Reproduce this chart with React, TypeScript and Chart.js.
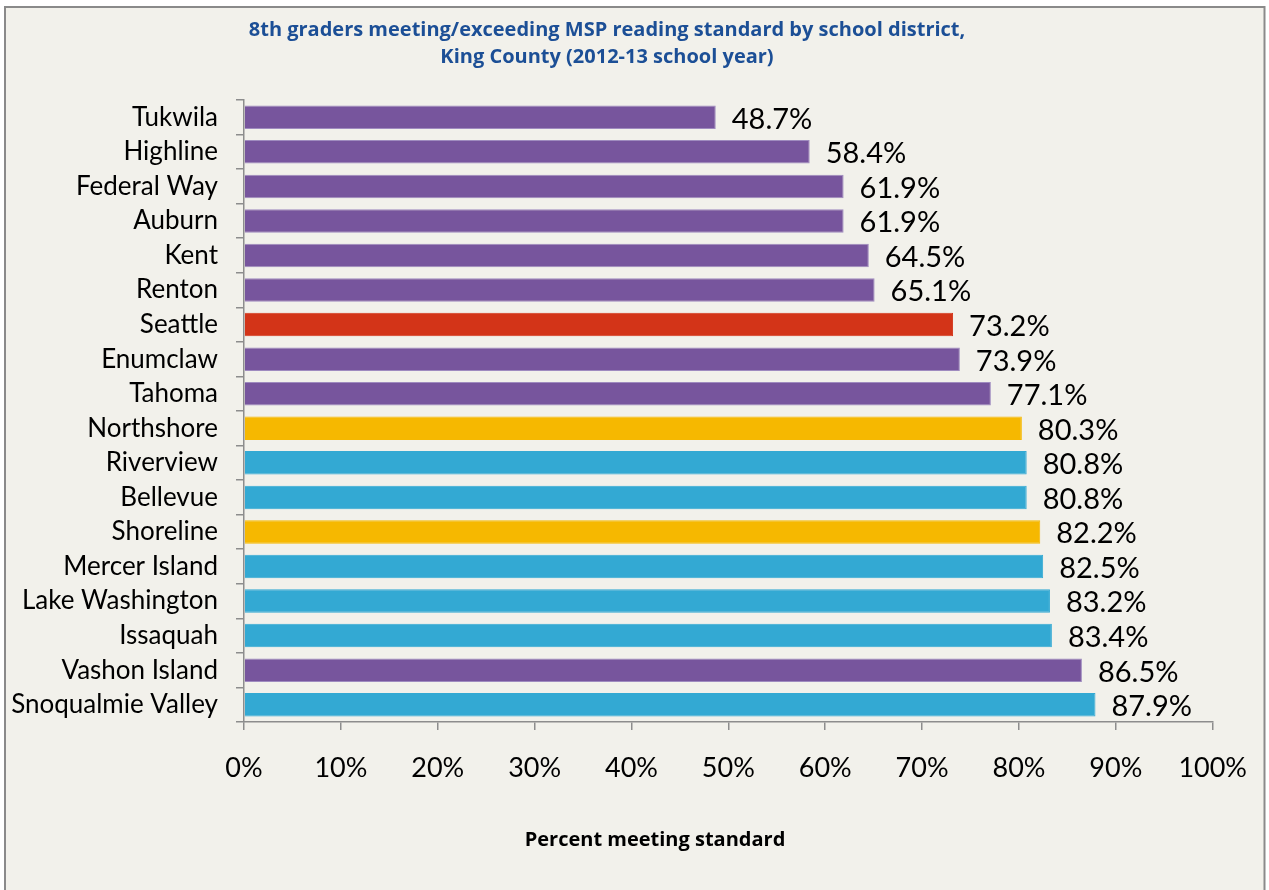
import React, { useEffect, useRef } from "react";
import { Chart, registerables } from "chart.js";

Chart.register(...registerables);

const districts = [
  "Tukwila", "Highline", "Federal Way", "Auburn", "Kent", "Renton", "Seattle",
  "Enumclaw", "Tahoma", "Northshore", "Riverview", "Bellevue", "Shoreline",
  "Mercer Island", "Lake Washington", "Issaquah", "Vashon Island", "Snoqualmie Valley",
];
const percentMeeting = [
  48.7, 58.4, 61.9, 61.9, 64.5, 65.1, 73.2, 73.9, 77.1, 80.3, 80.8, 80.8, 82.2,
  82.5, 83.2, 83.4, 86.5, 87.9,
];
const groups = [
  "p", "p", "p", "p", "p", "p", "r", "p", "p", "y", "b", "b", "y", "b", "b", "b", "p", "b",
];
const groupColors: Record<string, string> = { p: "#77559d", r: "#d33418", y: "#f6b800", b: "#33a9d3" };
const groupBorders: Record<string, string> = { p: "#9f8bbf", r: "#d33418", y: "#f6b800", b: "#33a9d3" };
const xTicks = [0, 10, 20, 30, 40, 50, 60, 70, 80, 90, 100];
const titleLines = [
  "8th graders meeting/exceeding MSP reading standard by school district,",
  "King County (2012-13 school year)",
];
const axisTitle = "Percent meeting standard";

const FONT = "Lato, 'Liberation Sans', sans-serif";
const TFONT = "'Open Sans', 'Liberation Sans', sans-serif";

export default function App() {
  const ref = useRef<HTMLCanvasElement | null>(null);
  useEffect(() => {
    if (!ref.current) return;
    const bgPlugin = {
      id: "bg",
      beforeDraw(chart: any) {
        const c = chart.ctx;
        c.save();
        c.fillStyle = "#ffffff";
        c.fillRect(0, 0, chart.width, chart.height);
        c.fillStyle = "#f2f1eb";
        c.fillRect(5, 7, 1259.5, 900);
        c.strokeStyle = "#8a8a8a";
        c.lineWidth = 2;
        c.strokeRect(5, 7, 1259.5, 900);
        c.restore();
      },
    };
    const textPlugin = {
      id: "texts",
      afterDatasetsDraw(chart: any) {
        const c = chart.ctx;
        c.save();
        c.fillStyle = "#000";
        c.font = `29px ${FONT}`;
        c.textAlign = "left";
        c.textBaseline = "middle";
        const meta = chart.getDatasetMeta(0);
        meta.data.forEach((el: any, i: number) => {
          c.fillText(percentMeeting[i].toFixed(1) + "%", el.x + 16, el.y + 2);
        });
        c.restore();
      },
      afterDraw(chart: any) {
        const c = chart.ctx;
        c.save();
        c.textAlign = "center";
        c.textBaseline = "middle";
        c.fillStyle = "#1c4f96";
        c.font = `bold 20px ${TFONT}`;
        c.fillText(titleLines[0], 607, 30);
        c.fillText(titleLines[1], 607, 57);
        c.fillStyle = "#000";
        c.fillText(axisTitle, 655, 840);
        c.restore();
      },
    };
    const chart = new Chart(ref.current, {
      type: "bar",
      data: {
        labels: districts,
        datasets: [
          {
            data: percentMeeting,
            backgroundColor: groups.map((g) => groupColors[g]),
            borderColor: groups.map((g) => groupBorders[g]),
            borderWidth: 1,
            categoryPercentage: 1,
            barPercentage: 0.68,
          },
        ],
      },
      options: {
        indexAxis: "y",
        responsive: false,
        animation: false,
        layout: { padding: { left: 0, right: 53, top: 100, bottom: 0 } },
        plugins: { legend: { display: false }, tooltip: { enabled: false }, title: { display: false } },
        scales: {
          y: {
            afterFit: (s: any) => { s.width = 244; },
            grid: { drawOnChartArea: false, tickLength: 8, color: "#8d8d8d", lineWidth: 1.5 },
            border: { color: "#8d8d8d", width: 1.5 },
            ticks: { color: "#000", padding: 18, font: { family: FONT, size: 26 } },
          },
          x: {
            min: 0,
            max: 100,
            afterFit: (s: any) => { s.height = 168; },
            afterBuildTicks: (s: any) => { s.ticks = xTicks.map((v) => ({ value: v })); },
            grid: { drawOnChartArea: false, tickLength: 8, color: "#8d8d8d", lineWidth: 1.5 },
            border: { color: "#8d8d8d", width: 1.5 },
            ticks: { color: "#000", padding: 22, font: { family: FONT, size: 27 }, callback: (v: any) => v + "%" },
          },
        },
      },
      plugins: [bgPlugin, textPlugin],
    });
    return () => chart.destroy();
  }, []);
  return (
    <div style={{ position: "fixed", left: 0, top: 0, width: 1269, height: 890 }}>
      <canvas ref={ref} width={1269} height={890} />
    </div>
  );
}
